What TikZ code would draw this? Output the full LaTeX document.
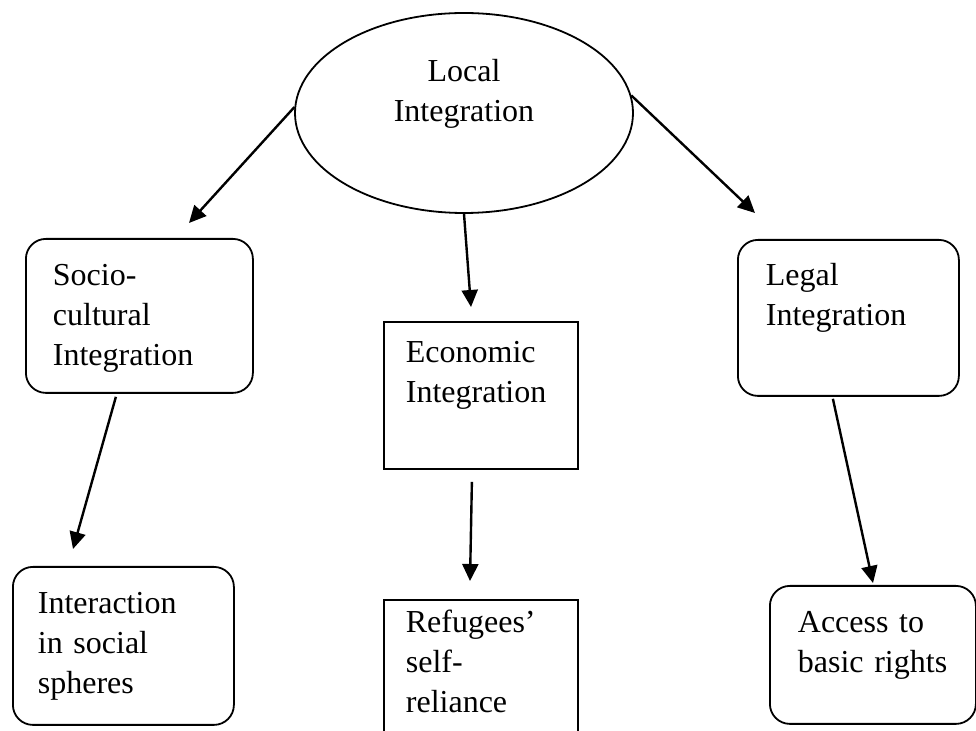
\documentclass[tikz,border=0pt]{standalone}
\usepackage{fontspec}
\setmainfont{Liberation Serif}
\usetikzlibrary{shapes.geometric,arrows.meta}

\begin{document}
\begin{tikzpicture}[x=0.5pt,y=-0.5pt,
  every node/.style={font=\fontsize{16}{20}\selectfont},
  box/.style={draw,line width=0.9pt,anchor=north west,align=left,inner ysep=0pt},
  rbox/.style={box,rounded corners=10pt},
  link/.style={-{Triangle[length=8.5pt,width=8pt]},line width=1.2pt}]
\clip (0,0) rectangle (976,731);
% top
\node[draw,ellipse,line width=0.9pt,minimum width=169pt,minimum height=100pt,inner sep=0pt,align=center,text depth=23pt] (li) at (464,113) {Local\\Integration};
% middle row
\node[rbox,inner xsep=13.5pt,text width=86.5pt,text height=23.5pt,text depth=53.5pt] (sc) at (25,238) {Socio-\\cultural\\Integration};
\node[box,inner xsep=11pt,text width=75pt,text height=20.5pt,text depth=53pt] (ec) at (383,321) {Economic\\Integration};
\node[rbox,inner xsep=14pt,text width=82.5pt,text height=23pt,text depth=55pt] (lg) at (737,239) {Legal\\Integration};
% bottom row
\node[rbox,inner xsep=12.5pt,text width=85.5pt,text height=23.5pt,text depth=55.5pt] (ia) at (12,566) {Interaction\\in social\\spheres};
\node[box,inner xsep=11pt,text width=75pt,text height=16.5pt,text depth=70pt] (rf) at (383,599) {Refugees’\\self-\\reliance};
\node[rbox,inner xsep=14pt,text width=75pt,text height=23.5pt,text depth=45.5pt] (ac) at (769,585) {Access to\\basic rights};
% arrow ends
\coordinate (scIn) at (189,223);
\coordinate (ecIn) at (471,307);
\coordinate (lgIn) at (755,213);
\coordinate (iaIn) at (73,549);
\coordinate (rfIn) at (470,581);
\coordinate (acIn) at (873,583);
% arrows
\draw[link] (li.178) -- (scIn);
\draw[link] (li.south) -- (ecIn);
\draw[link] (li.6) -- (lgIn);
\draw[link] ([xshift=-11.75pt,yshift=-1.5pt]sc.south) -- (iaIn);
\draw[link] ([xshift=-4.5pt,yshift=-6pt]ec.south) -- (rfIn);
\draw[link] ([xshift=-7.75pt,yshift=-1pt]lg.south) -- (acIn);
\end{tikzpicture}
\end{document}
